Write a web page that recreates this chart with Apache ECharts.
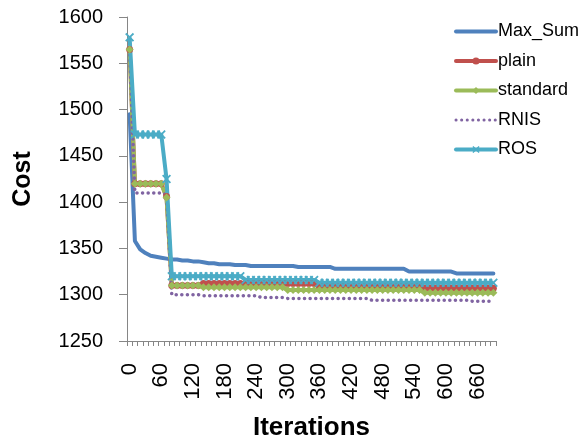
<!DOCTYPE html>
<html>
<head>
<meta charset="utf-8">
<script src="https://cdn.jsdelivr.net/npm/echarts@6/dist/echarts.min.js"></script>
<style>html,body{margin:0;padding:0;background:#fff}#c{width:585px;height:443px}</style>
</head>
<body>
<div id="c"></div>
<script>
const categories = [0,10,20,30,40,50,60,70,80,90,100,110,120,130,140,150,160,170,180,190,200,210,220,230,240,250,260,270,280,290,300,310,320,330,340,350,360,370,380,390,400,410,420,430,440,450,460,470,480,490,500,510,520,530,540,550,560,570,580,590,600,610,620,630,640,650,660,670,680,690];
const yTicks = [1250,1300,1350,1400,1450,1500,1550,1600];

const maxSum = [1495,1358,1349,1345,1342,1341,1340,1339,1338,1338,1337,1337,1336,1336,1335,1334,1334,1333,1333,1333,1332,1332,1332,1331,1331,
  1331,1331,1331,1331,1331,1331,1331,
  1330,1330,1330,1330,1330,1330,1330,
  1328,1328,1328,1328,1328,1328,1328,1328,1328,1328,1328,1328,1328,1328,
  1325,1325,1325,1325,1325,1325,1325,1325,1325,
  1323,1323,1323,1323,1323,1323,1323,1323];
const plain = [1565,1420,1420,1420,1420,1420,1420,1406,1310,1310,1310,1310,1310,1310,
  1312,1312,1312,1312,1312,1312,1312,1312,1312,1312,1312,1312,1312,1312,1312,1312,1312,1312,1312,1312,1312,1312,
  1309,1309,1309,1309,1309,1309,1309,1309,1309,1309,1309,1309,1309,1309,1309,1309,1309,1309,1309,1309,
  1307,1307,1307,1307,1307,1307,1307,1307,1307,1307,1307,1307,1307,1307];
const standard = [1565,1420,1420,1420,1420,1420,1420,1405,1310,1310,1310,1310,1310,1310,
  1308,1308,1308,1308,1308,1308,1308,1308,1308,1308,1308,1308,1308,1308,1308,1308,
  1305,1305,1305,1305,1305,1305,1305,1305,1305,1305,1305,1305,1305,1305,1305,1305,1305,1305,1305,1305,1305,1305,1305,1305,1305,1305,
  1302,1302,1302,1302,1302,1302,1302,1302,1302,1302,1302,1302,1302,1302];
const rnis = [1565,1410,1410,1410,1410,1410,1410,1408,1300,1300,1300,1300,1300,1300,
  1299,1299,1299,1299,1299,1299,1299,1299,1299,1299,1299,
  1297,1297,1297,1297,1297,
  1296,1296,1296,1296,1296,1296,1296,1296,1296,1296,1296,1296,1296,1296,1296,1296,
  1294,1294,1294,1294,1294,1294,1294,1294,1294,1294,1294,1294,1294,1294,1294,1294,1294,1294,1294,
  1293,1293,1293,1293,1293];
const ros = [1578,1473,1473,1473,1473,1473,1473,1425,
  1320,1320,1320,1320,1320,1320,1320,1320,1320,1320,1320,1320,1320,1320,
  1316,1316,1316,1316,1316,1316,1316,1316,1316,1316,1316,1316,1316,1316,
  1313,1313,1313,1313,1313,1313,1313,1313,1313,1313,1313,1313,1313,1313,1313,1313,1313,1313,1313,1313,1313,1313,1313,1313,1313,1313,1313,1313,1313,1313,1313,1313,1313,1313];

const FONT = 'Liberation Sans';
const xSym = 'path://M0,1.4 L1.4,0 L5,3.6 L8.6,0 L10,1.4 L6.4,5 L10,8.6 L8.6,10 L5,6.4 L1.4,10 L0,8.6 L3.6,5 Z';

const chart = echarts.init(document.getElementById('c'), null, {renderer: 'canvas'});
chart.setOption({
  animation: false,
  backgroundColor: '#fff',
  grid: {left: 127, right: 89, top: 17, bottom: 102, containLabel: false, outerBoundsMode: 'none'},
  legend: {
    orient: 'vertical', left: 449, top: 17.5, itemWidth: 40, itemHeight: 9, itemGap: 11.5,
    textStyle: {fontFamily: FONT, fontSize: 18, lineHeight: 18, color: '#000', padding: [0,0,0,-3]},
    lineStyle: {width: 4, cap: 'round'},
    data: [
      {name: 'Max_Sum', itemStyle: {opacity: 0}},
      {name: 'plain'},
      {name: 'standard'},
      {name: 'RNIS', itemStyle: {opacity: 0}, lineStyle: {width: 3, type: [0.1, 5.5], cap: 'round'}},
      {name: 'ROS'}
    ]
  },
  xAxis: {
    type: 'category', data: categories, boundaryGap: true,
    name: 'Iterations', nameLocation: 'middle', nameGap: 74,
    nameTextStyle: {fontFamily: FONT, fontSize: 26, fontWeight: 'bold', color: '#000'},
    axisLine: {lineStyle: {color: '#868686', width: 1}},
    axisTick: {show: true, interval: 0, length: 5, lineStyle: {color: '#868686'}},
    axisLabel: {interval: 5, rotate: 90, margin: 22, fontFamily: FONT, fontSize: 22, color: '#000'},
    splitLine: {show: false}
  },
  yAxis: {
    type: 'value', min: yTicks[0], max: yTicks[yTicks.length-1], interval: 50,
    name: 'Cost', nameLocation: 'middle', nameGap: 91, nameRotate: 90,
    nameTextStyle: {fontFamily: FONT, fontSize: 25, fontWeight: 'bold', color: '#000'},
    axisLine: {show: true, lineStyle: {color: '#868686', width: 1}},
    axisTick: {show: true, length: 8, lineStyle: {color: '#868686'}},
    axisLabel: {margin: 24, fontFamily: FONT, fontSize: 20, color: '#000', formatter: v => String(v)},
    splitLine: {show: false}
  },
  series: [
    {name: 'Max_Sum', type: 'line', data: maxSum, symbol: 'none', color: '#4F81BD',
     lineStyle: {width: 4, color: '#4F81BD', cap: 'round'}},
    {name: 'plain', type: 'line', data: plain, symbol: 'circle', symbolSize: 7, color: '#C0504D',
     showAllSymbol: true, lineStyle: {width: 4, color: '#C0504D'}, itemStyle: {color: '#C0504D'}},
    {name: 'standard', type: 'line', data: standard, symbol: 'diamond', symbolSize: 8, color: '#9BBB59',
     showAllSymbol: true, lineStyle: {width: 4, color: '#9BBB59'}, itemStyle: {color: '#9BBB59'}},
    {name: 'RNIS', type: 'line', data: rnis, symbol: 'none', color: '#8064A2',
     lineStyle: {width: 3.5, color: '#8064A2', type: [0.1, 5.5], cap: 'round'}},
    {name: 'ROS', type: 'line', data: ros, symbol: xSym, symbolSize: 9, color: '#4BACC6',
     showAllSymbol: true, lineStyle: {width: 4, color: '#4BACC6'}, itemStyle: {color: '#4BACC6'}}
  ]
});
</script>
</body>
</html>
